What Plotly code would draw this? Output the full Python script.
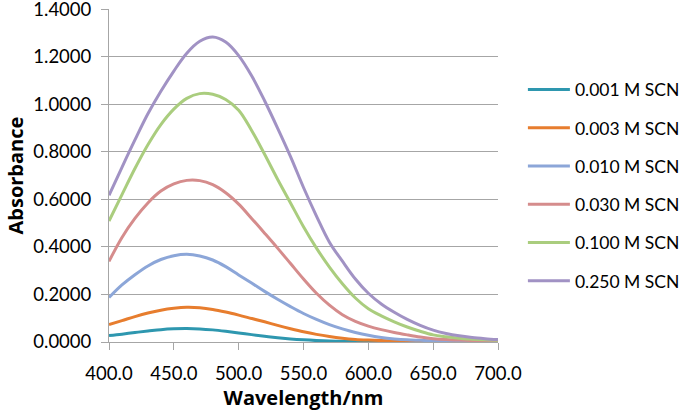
import plotly.graph_objects as go

wavelength = [400, 410, 420, 430, 440, 450, 460, 470, 480, 490, 500, 510, 520, 530, 540, 550,
              560, 570, 580, 590, 600, 610, 620, 630, 640, 650, 660, 670, 680, 690, 700]

abs_0001 = [0.027, 0.033, 0.040, 0.046, 0.052, 0.0555, 0.0565, 0.055, 0.051, 0.045, 0.038, 0.031,
            0.024, 0.018, 0.013, 0.009, 0.006, 0.004, 0.003, 0.0025, 0.002, 0.002, 0.0015, 0.0015,
            0.001, 0.001, 0.001, 0.001, 0.001, 0.001, 0.001]
abs_0003 = [0.0735, 0.090, 0.107, 0.122, 0.134, 0.142, 0.146, 0.144, 0.137, 0.126, 0.113, 0.099,
            0.085, 0.070, 0.056, 0.043, 0.032, 0.023, 0.016, 0.011, 0.008, 0.006, 0.005, 0.004,
            0.003, 0.003, 0.002, 0.002, 0.002, 0.002, 0.002]
abs_0010 = [0.187, 0.240, 0.283, 0.320, 0.347, 0.363, 0.369, 0.362, 0.345, 0.317, 0.282, 0.248,
            0.213, 0.180, 0.149, 0.120, 0.095, 0.073, 0.055, 0.040, 0.028, 0.019, 0.013, 0.009,
            0.007, 0.005, 0.005, 0.004, 0.004, 0.003, 0.003]
abs_0030 = [0.339, 0.440, 0.520, 0.585, 0.635, 0.665, 0.680, 0.679, 0.662, 0.628, 0.580, 0.520,
            0.458, 0.395, 0.330, 0.265, 0.205, 0.155, 0.115, 0.087, 0.067, 0.052, 0.040, 0.030,
            0.021, 0.014, 0.010, 0.008, 0.006, 0.005, 0.004]
abs_0100 = [0.509, 0.620, 0.730, 0.830, 0.915, 0.980, 1.025, 1.045, 1.042, 1.020, 0.975, 0.890,
            0.790, 0.685, 0.585, 0.485, 0.395, 0.315, 0.245, 0.185, 0.140, 0.110, 0.085, 0.063,
            0.045, 0.030, 0.022, 0.016, 0.012, 0.009, 0.007]
abs_0250 = [0.617, 0.735, 0.850, 0.960, 1.055, 1.140, 1.215, 1.265, 1.283, 1.262, 1.205, 1.120,
            1.015, 0.900, 0.780, 0.650, 0.530, 0.420, 0.340, 0.265, 0.205, 0.160, 0.125, 0.095,
            0.070, 0.050, 0.036, 0.026, 0.019, 0.014, 0.010]

series_names = ["0.001 M SCN", "0.003 M SCN", "0.010 M SCN", "0.030 M SCN", "0.100 M SCN", "0.250 M SCN"]
series_values = [abs_0001, abs_0003, abs_0010, abs_0030, abs_0100, abs_0250]
colors = ["#2E97AF", "#E77D2E", "#8CA6D8", "#D58C8C", "#AACD7E", "#A192C4"]

x_ticks = [400, 450, 500, 550, 600, 650, 700]
y_ticks = [0.0, 0.2, 0.4, 0.6, 0.8, 1.0, 1.2, 1.4]

fig = go.Figure()
for name, vals, col in zip(series_names, series_values, colors):
    fig.add_trace(go.Scatter(x=wavelength, y=vals, mode="lines", name=name,
                             line=dict(color=col, width=3, shape="spline", smoothing=1.0),
                             legendgroup=name))

font = "Lato, 'Open Sans', sans-serif"
title_font = dict(family="'Open Sans', Lato, sans-serif", size=20, color="#000000")
fig.update_layout(
    width=685, height=413,
    margin=dict(l=109, r=187, t=9, b=71, autoexpand=False),
    paper_bgcolor="white", plot_bgcolor="white",
    font=dict(family=font, size=18.5, color="#000000"),
    showlegend=True,
    legend=dict(x=1.064, y=0.812, xanchor="left", yanchor="top",
                font=dict(size=17.5), tracegroupgap=12.5, itemwidth=42,
                bgcolor="rgba(0,0,0,0)"),
    xaxis=dict(range=[400, 700], tickvals=x_ticks, tickformat=".1f", automargin=False,
               showgrid=False, showline=True, linecolor="#A6A6A6", linewidth=1,
               ticks="outside", ticklen=7, tickcolor="#A6A6A6", ticklabelstandoff=8,
               ticklabeloverflow="allow", zeroline=False,
               title=dict(text="<b>Wavelength/nm</b>", font=title_font, standoff=7)),
    yaxis=dict(range=[0, 1.401], tickvals=y_ticks, tickformat=".4f", automargin=False,
               showgrid=True, gridcolor="#A6A6A6", gridwidth=1,
               showline=True, linecolor="#A6A6A6", linewidth=1,
               ticks="outside", ticklen=7, tickcolor="#A6A6A6", ticklabelstandoff=6,
               ticklabeloverflow="allow", zeroline=False),
    annotations=[dict(text="<b>Absorbance</b>", textangle=-90, font=title_font,
                      xref="paper", yref="paper", x=-0.2416, y=0.5,
                      xanchor="center", yanchor="middle", showarrow=False)],
)

fig.write_html("out.html", config={"displayModeBar": False},
               post_script="document.body.style.margin='0';")
